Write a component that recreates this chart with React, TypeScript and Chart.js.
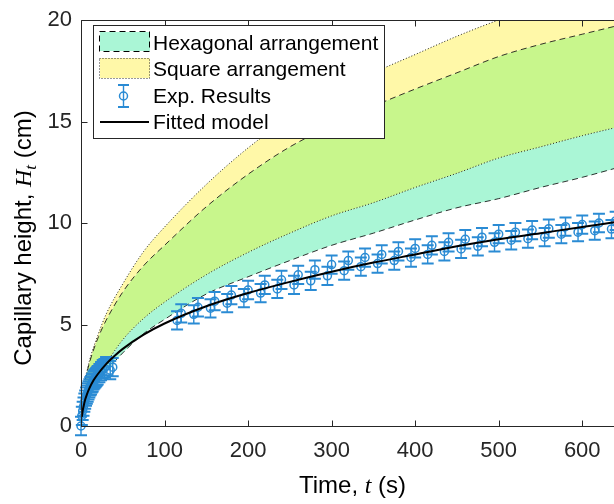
import React, { useEffect, useRef } from 'react';
import { Chart, registerables } from 'chart.js';

Chart.register(...registerables);

// ---------- data ----------
const bandTime = [5, 10, 20, 30, 50, 75, 100, 150, 200, 250, 300, 350, 400, 450, 500, 550, 600, 640];
const squareUpper = [2.3, 3.2, 4.45, 5.5, 7.0, 8.6, 9.8, 11.9, 13.7, 15.2, 16.4, 17.4, 18.3, 19.2, 20.0, 20.7, 21.4, 21.9];
const hexUpper = [2.25, 3.1, 4.3, 5.2, 6.6, 7.9, 8.9, 10.8, 12.4, 13.75, 14.8, 15.75, 16.6, 17.4, 18.2, 18.8, 19.3, 19.7];
const squareLower = [1.3, 1.8, 2.55, 3.1, 4.25, 5.3, 6.1, 7.45, 8.55, 9.5, 10.35, 11.0, 11.75, 12.45, 13.2, 13.75, 14.3, 14.7];
const hexLower = [1.1, 1.55, 2.2, 2.7, 3.6, 4.55, 5.25, 6.5, 7.35, 8.15, 8.9, 9.5, 10.15, 10.75, 11.2, 11.75, 12.25, 12.7];

const fitTime = [1, 2, 3, 5, 7, 10, 15, 20, 30, 40, 50, 75, 100, 150, 200, 250, 300, 350, 400, 450, 500, 550, 600, 640];
const fitHeight = [0.45, 0.75, 0.95, 1.3, 1.55, 1.85, 2.25, 2.55, 3.05, 3.45, 3.8, 4.5, 5.05, 5.9, 6.55, 7.1, 7.6, 8.05, 8.45, 8.85, 9.2, 9.5, 9.8, 10.05];

const expEarlyTime = [0, 1, 2, 3, 4, 5, 6, 7, 8, 9, 10, 11, 12, 13, 14, 15, 16, 17, 18, 19, 20, 22, 24, 26, 28, 30, 35, 38];
const expEarlyHeight = [0, 0.5, 0.75, 0.95, 1.15, 1.3, 1.45, 1.55, 1.65, 1.75, 1.85, 1.95, 2.0, 2.1, 2.15, 2.25, 2.3, 2.35, 2.4, 2.45, 2.5, 2.6, 2.7, 2.8, 2.85, 2.95, 2.75, 2.9];
const expLateTimeA = [120, 140, 160, 180, 200, 220, 240, 260, 280, 300, 320, 340, 360, 380, 400, 420, 440, 460, 480, 500, 520, 540, 560, 580, 600, 620, 640];
const expLateHeightA = [5.55, 5.85, 6.15, 6.45, 6.7, 6.95, 7.2, 7.45, 7.7, 7.95, 8.15, 8.3, 8.45, 8.6, 8.75, 8.9, 9.05, 9.2, 9.3, 9.45, 9.55, 9.65, 9.72, 9.82, 9.92, 10.0, 10.1];
const expLateTimeB = [115, 135, 155, 175, 195, 215, 235, 255, 275, 295, 315, 335, 355, 375, 395, 415, 435, 455, 475, 495, 515, 535, 555, 575, 595, 615, 635];
const expLateHeightB = [5.2, 5.5, 5.8, 6.05, 6.3, 6.55, 6.75, 6.95, 7.15, 7.4, 7.65, 7.85, 8.0, 8.15, 8.3, 8.45, 8.6, 8.72, 8.85, 9.05, 9.15, 9.23, 9.3, 9.45, 9.55, 9.62, 9.7];
const expError = 0.45;

const xTicks = [0, 100, 200, 300, 400, 500, 600];
const yTicks = [0, 5, 10, 15, 20];
const legendLabels = ['Hexagonal arrangement', 'Square arrangement', 'Exp. Results', 'Fitted model'];

// ---------- styles ----------
const AXIS = '#262626';
const BLUE = '#2A8BD4';
const CYAN = 'rgb(170,246,214)';
const YELLOW = 'rgb(255,248,168)';
const GREEN = 'rgb(200,246,140)';
const SANS = '"Liberation Sans", Arial, sans-serif';
const SERIF = '"Liberation Serif", "Times New Roman", serif';

const toXY = (xs: number[], ys: number[]) => xs.map((x, i) => ({ x, y: ys[i] }));

export default function App() {
  const ref = useRef<HTMLCanvasElement>(null);

  useEffect(() => {
    const canvas = ref.current!;
    const expPoints = [
      ...toXY(expEarlyTime, expEarlyHeight),
      ...toXY(expLateTimeB, expLateHeightB),
      ...toXY(expLateTimeA, expLateHeightA),
    ];

    const drawSegments = (ctx: CanvasRenderingContext2D, segs: any[], startX: number) => {
      let cx = startX;
      for (const s of segs) {
        ctx.font = s.font;
        ctx.fillText(s.text, cx, s.dy || 0);
        cx += ctx.measureText(s.text).width;
      }
      return cx - startX;
    };
    const measureSegments = (ctx: CanvasRenderingContext2D, segs: any[]) => {
      let w = 0;
      for (const s of segs) {
        ctx.font = s.font;
        w += ctx.measureText(s.text).width;
      }
      return w;
    };

    const overlay = {
      id: 'overlay',
      afterDatasetDraw(chart: any, args: any) {
        if (args.index !== 0) return;
        const { ctx, scales } = chart;
        const xs = scales.x, ys = scales.y;
        ctx.save();
        ctx.strokeStyle = BLUE;
        for (const p of expPoints) {
          const px = xs.getPixelForValue(p.x);
          const y1 = ys.getPixelForValue(p.y + expError);
          const y2 = ys.getPixelForValue(Math.max(p.y - expError, 0 - expError));
          ctx.lineWidth = 1.4;
          ctx.beginPath();
          ctx.moveTo(px, y1);
          ctx.lineTo(px, y2);
          ctx.stroke();
          ctx.lineWidth = 2;
          ctx.beginPath();
          ctx.moveTo(px - 6, y1);
          ctx.lineTo(px + 6, y1);
          ctx.moveTo(px - 6, y2);
          ctx.lineTo(px + 6, y2);
          ctx.stroke();
        }
        ctx.restore();
      },
      afterDraw(chart: any) {
        const { ctx, chartArea: a, scales } = chart;
        const xs = scales.x, ys = scales.y;
        ctx.save();
        // axes box
        ctx.strokeStyle = AXIS;
        ctx.lineWidth = 1;
        const L = Math.floor(a.left) + 0.5;
        const B = Math.floor(a.bottom) + 0.5;
        const T = Math.floor(a.top) + 0.5;
        const R = Math.floor(a.right) + 0.5;
        ctx.beginPath();
        ctx.moveTo(L, B); ctx.lineTo(R, B);
        ctx.moveTo(L, T); ctx.lineTo(R, T);
        ctx.moveTo(L, T); ctx.lineTo(L, B);
        ctx.moveTo(R, T); ctx.lineTo(R, B);
        for (const v of xTicks) {
          const px = Math.round(xs.getPixelForValue(v)) + 0.5;
          ctx.moveTo(px, B); ctx.lineTo(px, B - 6);
          ctx.moveTo(px, T); ctx.lineTo(px, T + 6);
        }
        for (const v of yTicks) {
          const py = Math.round(ys.getPixelForValue(v)) + 0.5;
          ctx.moveTo(L, py); ctx.lineTo(L + 6, py);
          ctx.moveTo(R, py); ctx.lineTo(R - 6, py);
        }
        ctx.stroke();

        // axis titles
        ctx.fillStyle = '#000';
        ctx.textBaseline = 'alphabetic';
        ctx.textAlign = 'left';
        const xTitle = [
          { text: 'Time, ', font: `24px ${SANS}` },
          { text: 't', font: `italic 24px ${SERIF}` },
          { text: ' (s)', font: `24px ${SANS}` },
        ];
        const cx = (a.left + a.right) / 2;
        const wx = measureSegments(ctx, xTitle);
        ctx.save();
        ctx.translate(cx - wx / 2, 493);
        drawSegments(ctx, xTitle, 0);
        ctx.restore();

        const yTitle = [
          { text: 'Capillary height, ', font: `24px ${SANS}` },
          { text: 'H', font: `italic 24px ${SERIF}` },
          { text: 't', font: `italic 17px ${SERIF}`, dy: 5 },
          { text: ' (cm)', font: `24px ${SANS}` },
        ];
        const wy = measureSegments(ctx, yTitle);
        ctx.save();
        ctx.translate(31, 238 + wy / 2);
        ctx.rotate(-Math.PI / 2);
        drawSegments(ctx, yTitle, 0);
        ctx.restore();

        // legend
        ctx.fillStyle = '#fff';
        ctx.fillRect(94, 26, 290, 112);
        ctx.strokeStyle = AXIS;
        ctx.lineWidth = 1;
        ctx.strokeRect(93.5, 25.5, 291, 113);

        // hex swatch
        ctx.fillStyle = CYAN;
        ctx.fillRect(100, 32, 50, 19);
        ctx.strokeStyle = '#000';
        ctx.setLineDash([6, 4]);
        ctx.strokeRect(99.5, 31.5, 50, 20);
        // square swatch
        ctx.fillStyle = YELLOW;
        ctx.fillRect(100, 58, 50, 20);
        ctx.strokeStyle = '#333';
        ctx.setLineDash([1, 2]);
        ctx.strokeRect(99.5, 58.5, 50, 20);
        ctx.setLineDash([]);
        // exp marker
        ctx.strokeStyle = BLUE;
        ctx.lineWidth = 1.4;
        ctx.beginPath();
        ctx.moveTo(123.5, 85); ctx.lineTo(123.5, 107);
        ctx.stroke();
        ctx.lineWidth = 2;
        ctx.beginPath();
        ctx.moveTo(118, 85); ctx.lineTo(129, 85);
        ctx.moveTo(118, 107); ctx.lineTo(129, 107);
        ctx.stroke();
        ctx.lineWidth = 1.5;
        ctx.beginPath();
        ctx.arc(123.5, 96, 4, 0, Math.PI * 2);
        ctx.stroke();
        // fit line
        ctx.strokeStyle = '#000';
        ctx.lineWidth = 2;
        ctx.beginPath();
        ctx.moveTo(100, 122); ctx.lineTo(149, 122);
        ctx.stroke();

        ctx.fillStyle = '#000';
        ctx.font = `21px ${SANS}`;
        const baselines = [49.5, 76, 102.5, 129];
        legendLabels.forEach((t, i) => ctx.fillText(t, 153, baselines[i]));
        ctx.restore();
      },
    };

    const bandCommon = {
      pointRadius: 0,
      borderWidth: 1,
      cubicInterpolationMode: 'monotone' as const,
    };

    const chart = new Chart(canvas, {
      type: 'line',
      data: {
        datasets: [
          {
            label: 'Exp. Results',
            data: expPoints,
            showLine: false,
            pointRadius: 4,
            pointStyle: 'circle',
            pointBorderColor: BLUE,
            pointBackgroundColor: 'rgba(0,0,0,0)',
            pointBorderWidth: 1.5,
            borderColor: BLUE,
            order: 1,
            clip: false,
          } as any,
          {
            label: 'Fitted model',
            data: toXY(fitTime, fitHeight),
            borderColor: '#000',
            borderWidth: 2,
            pointRadius: 0,
            cubicInterpolationMode: 'monotone',
            fill: false,
            order: 0,
            clip: false,
          } as any,
          {
            label: 'Square upper',
            data: toXY(bandTime, squareUpper),
            borderColor: 'rgba(0,0,0,0.85)',
            borderDash: [1, 2],
            fill: false,
            order: 2,
            ...bandCommon,
          },
          {
            label: 'Hex upper',
            data: toXY(bandTime, hexUpper),
            borderColor: 'rgba(0,0,0,0.8)',
            borderDash: [6, 4],
            fill: '-1',
            backgroundColor: YELLOW,
            order: 3,
            ...bandCommon,
          },
          {
            label: 'Square lower',
            data: toXY(bandTime, squareLower),
            borderColor: 'rgba(0,0,0,0.85)',
            borderDash: [1, 2],
            fill: '-1',
            backgroundColor: GREEN,
            order: 4,
            ...bandCommon,
          },
          {
            label: 'Hex lower',
            data: toXY(bandTime, hexLower),
            borderColor: 'rgba(0,0,0,0.8)',
            borderDash: [6, 4],
            fill: '-1',
            backgroundColor: CYAN,
            order: 5,
            ...bandCommon,
          },
        ],
      },
      options: {
        responsive: false,
        animation: false,
        devicePixelRatio: 1,
        layout: { padding: { top: 12, right: 16, left: 0, bottom: 0 } },
        plugins: {
          legend: { display: false },
          tooltip: { enabled: false },
          filler: { propagate: false },
        },
        scales: {
          x: {
            type: 'linear',
            min: 0,
            max: 650,
            grid: { display: false, drawTicks: false },
            border: { display: false },
            ticks: {
              stepSize: 100,
              includeBounds: false,
              autoSkip: false,
              maxRotation: 0,
              color: AXIS,
              padding: 12,
              font: { family: SANS, size: 22 },
            },
            afterFit: (s: any) => { s.height = 78; },
          },
          y: {
            type: 'linear',
            min: 0,
            max: 20,
            grid: { display: false, drawTicks: false },
            border: { display: false },
            ticks: {
              stepSize: 5,
              color: AXIS,
              padding: 9,
              font: { family: SANS, size: 22, lineHeight: 1 },
            },
            afterFit: (s: any) => { s.width = 81; },
          },
        },
      },
      plugins: [overlay],
    } as any);

    return () => chart.destroy();
  }, []);

  return (
    <div style={{ position: 'absolute', left: 0, top: 0, width: 614, height: 504, overflow: 'hidden', background: '#fff' }}>
      <canvas ref={ref} width={640} height={504} style={{ display: 'block' }} />
    </div>
  );
}
